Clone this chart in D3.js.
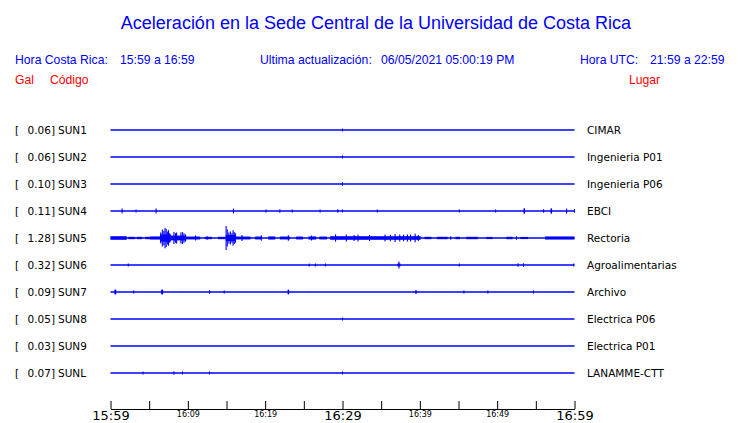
<!DOCTYPE html>
<html><head><meta charset="utf-8">
<script src="https://cdn.jsdelivr.net/npm/d3@7"></script>
<style>body{margin:0;background:#fff}svg{display:block}</style>
</head><body>
<svg id="c" width="740" height="423"></svg>
<script>
// ---- data ----
const stations = ["SUN1","SUN2","SUN3","SUN4","SUN5","SUN6","SUN7","SUN8","SUN9","SUNL"];
const galValues = ["0.06","0.06","0.10","0.11","1.28","0.32","0.09","0.05","0.03","0.07"];
const places = ["CIMAR","Ingenieria P01","Ingenieria P06","EBCI","Rectoria","Agroalimentarias","Archivo","Electrica P06","Electrica P01","LANAMME-CTT"];
// tick offsets in minutes from 15:59
const tickMinutes = [0,5,10,15,20,25,30,35,40,45,50,55,60];
const tickLabels = {0:"15:59",10:"16:09",20:"16:19",30:"16:29",40:"16:39",50:"16:49",60:"16:59"};
const bigLabels = ["15:59","16:29","16:59"];
// spikes: [minute, normalized amplitude]
const spikes = [
  [[30.0,0.12]],
  [[30.0,0.10]],
  [[30.0,0.15]],
  [[1.5,0.2],[3.3,0.1],[5.9,0.2],[15.9,0.2],[20.1,0.12],[21.9,0.15],[23.5,0.12],[27.1,0.12],[29.4,0.15],[30.0,0.1],[34.5,0.1],[45.1,0.1],[49.8,0.1],[56.0,0.15],[58.98,0.2],[60.0,0.15]],
  [[6.5,0.45],[6.7,0.7],[6.9,0.6],[7.05,0.85],[7.2,0.75],[7.35,0.55],[7.5,0.65],[7.65,0.4],[8.2,0.5],[8.4,0.4],[8.55,0.45],[9.1,0.45],[9.3,0.5],[9.5,0.4],[9.7,0.3],
   [11.0,0.2],[12.5,0.15],
   [14.95,1.0],[15.1,0.7],[15.3,0.45],[15.5,0.55],[15.7,0.4],[15.85,0.65],[16.0,0.5],[16.15,0.4],[17.0,0.25],
   [19.5,0.22],[23.0,0.22],[26.0,0.2],
   [29.1,0.3],[30.5,0.3],[31.5,0.25],[32.0,0.3],[33.5,0.25],[35.5,0.3],[36.2,0.28],[36.8,0.33],[37.4,0.3],[37.9,0.28],[38.4,0.3],[38.8,0.3],[39.4,0.35],[39.8,0.25],
   [44.0,0.15],[52.5,0.15]],
  [[2.3,0.1],[25.7,0.1],[26.5,0.1],[27.8,0.12],[37.3,0.3],[45.1,0.12],[52.7,0.15],[53.4,0.15],[59.9,0.12]],
  [[3.0,0.08],[12.8,0.15],[14.7,0.12],[45.7,0.12],[48.8,0.12],[54.7,0.12]],
  [[30.0,0.1]],
  [],
  [[4.2,0.12],[8.2,0.15],[9.3,0.1],[12.8,0.1],[30.0,0.1]]
];
// segments (dense bursts): [startMinute, endMinute, normalized amplitude]
const segments = [
  [],[],[],
  [[53.4,53.6,0.22],[56.9,57.1,0.22]],
  [[0,2.1,0.15],[2.3,3.2,0.1],[3.4,4.1,0.1],[4.5,5.1,0.1],[5.1,6.4,0.13],[6.4,7.8,0.3],[7.8,9.8,0.2],[9.8,11.6,0.12],
   [12.2,13.1,0.1],[13.9,14.8,0.1],[14.9,16.2,0.25],[16.2,18.1,0.12],
   [18.7,19.6,0.12],[20.4,21.3,0.13],[21.9,23.2,0.12],[24.0,24.9,0.12],[25.6,26.6,0.13],[27.0,28.0,0.12],[28.4,40.1,0.15],
   [40.6,41.5,0.1],[42.2,43.6,0.1],[44.6,45.2,0.1],[46.0,47.5,0.1],[48.6,49.4,0.09],[51.2,52.0,0.1],[53.0,54.0,0.09],[56.2,60,0.13]],
  [[37.1,37.5,0.12]],
  [[0.5,0.75,0.2],[6.55,6.8,0.2],[22.9,23.1,0.2],[39.4,39.6,0.15]],
  [],[],[]
];

// ---- drawing ----
const svg = d3.select("#c");
const blue = "#0000ff";
const t0 = new Date(2021,4,6,15,59,0);
const tm = m => new Date(t0.getTime() + m*60000);
const x = d3.scaleTime().domain([tm(0), tm(60)]).range([110.5, 574.5]);
const y = d3.scalePoint().domain(stations).range([130, 373]);
const amp = d3.scaleLinear().domain([0,1]).range([0,12]);

svg.append("text").attr("x",376).attr("y",29).attr("text-anchor","middle")
  .attr("font-family","Liberation Sans, Arial, sans-serif").attr("font-size",18).attr("fill",blue)
  .text("Aceleración en la Sede Central de la Universidad de Costa Rica");

const hdr = [
  ["Hora Costa Rica:",15,64,blue],["15:59 a 16:59",120,64,blue],
  ["Ultima actualización:",260,64,blue],["06/05/2021 05:00:19 PM",381,64,blue],
  ["Hora UTC:",580,64,blue],["21:59 a 22:59",650,64,blue],
  ["Gal",15,84,"#ff0000"],["Código",50,84,"#ff0000"],["Lugar",629,84,"#ff0000"]
];
svg.append("g").selectAll("text").data(hdr).join("text")
  .attr("x",d=>d[1]).attr("y",d=>d[2]).attr("fill",d=>d[3])
  .attr("font-family","Liberation Sans, Arial, sans-serif").attr("font-size",12.2)
  .text(d=>d[0]);

const lab = svg.append("g").attr("font-family","DejaVu Sans, sans-serif").attr("font-size",10.5).attr("fill","#000");
stations.forEach((s,i)=>{
  const yy = y(s)+4;
  lab.append("text").attr("x",15).attr("y",yy).text("[");
  lab.append("text").attr("x",55).attr("y",yy).attr("text-anchor","end").text(galValues[i]+"]");
  lab.append("text").attr("x",58).attr("y",yy).text(s);
  lab.append("text").attr("x",587).attr("y",yy).text(places[i]);
});

const tr = svg.append("g");
stations.forEach((s,i)=>{
  const yy = y(s);
  const g = tr.append("g");
  g.append("line").attr("x1",x(tm(0))).attr("x2",x(tm(60))).attr("y1",yy).attr("y2",yy)
    .attr("stroke",blue).attr("stroke-width",1.3);
  g.selectAll("rect").data(segments[i]).join("rect")
    .attr("x",d=>x(tm(d[0]))).attr("width",d=>Math.max(1,x(tm(d[1]))-x(tm(d[0]))))
    .attr("y",d=>yy-amp(d[2])).attr("height",d=>2*amp(d[2])).attr("fill",blue);
  g.selectAll("line.sp").data(spikes[i]).join("line").attr("class","sp")
    .attr("x1",d=>x(tm(d[0]))).attr("x2",d=>x(tm(d[0])))
    .attr("y1",d=>yy-Math.max(1.5,amp(d[1]))).attr("y2",d=>yy+Math.max(1.5,amp(d[1])))
    .attr("stroke",blue).attr("stroke-width",1.1);
});

const axis = d3.axisBottom(x).tickValues(tickMinutes.map(tm)).tickSize(-8).tickSizeOuter(0).tickPadding(2)
  .tickFormat(d=>{const m=Math.round((d-t0)/60000); return tickLabels[m]||"";});
const ag = svg.append("g").attr("transform","translate(0,409)").call(axis);
ag.select(".domain").attr("stroke","#000").attr("stroke-width",1);
ag.selectAll(".tick line").attr("stroke","#000");
ag.selectAll(".tick text").attr("fill","#000").attr("font-family","DejaVu Sans, sans-serif")
  .attr("font-size",d=>{const l=tickLabels[Math.round((d-t0)/60000)]; return bigLabels.includes(l)?13:8;})
  .attr("dy","0.71em");
</script>
</body></html>
